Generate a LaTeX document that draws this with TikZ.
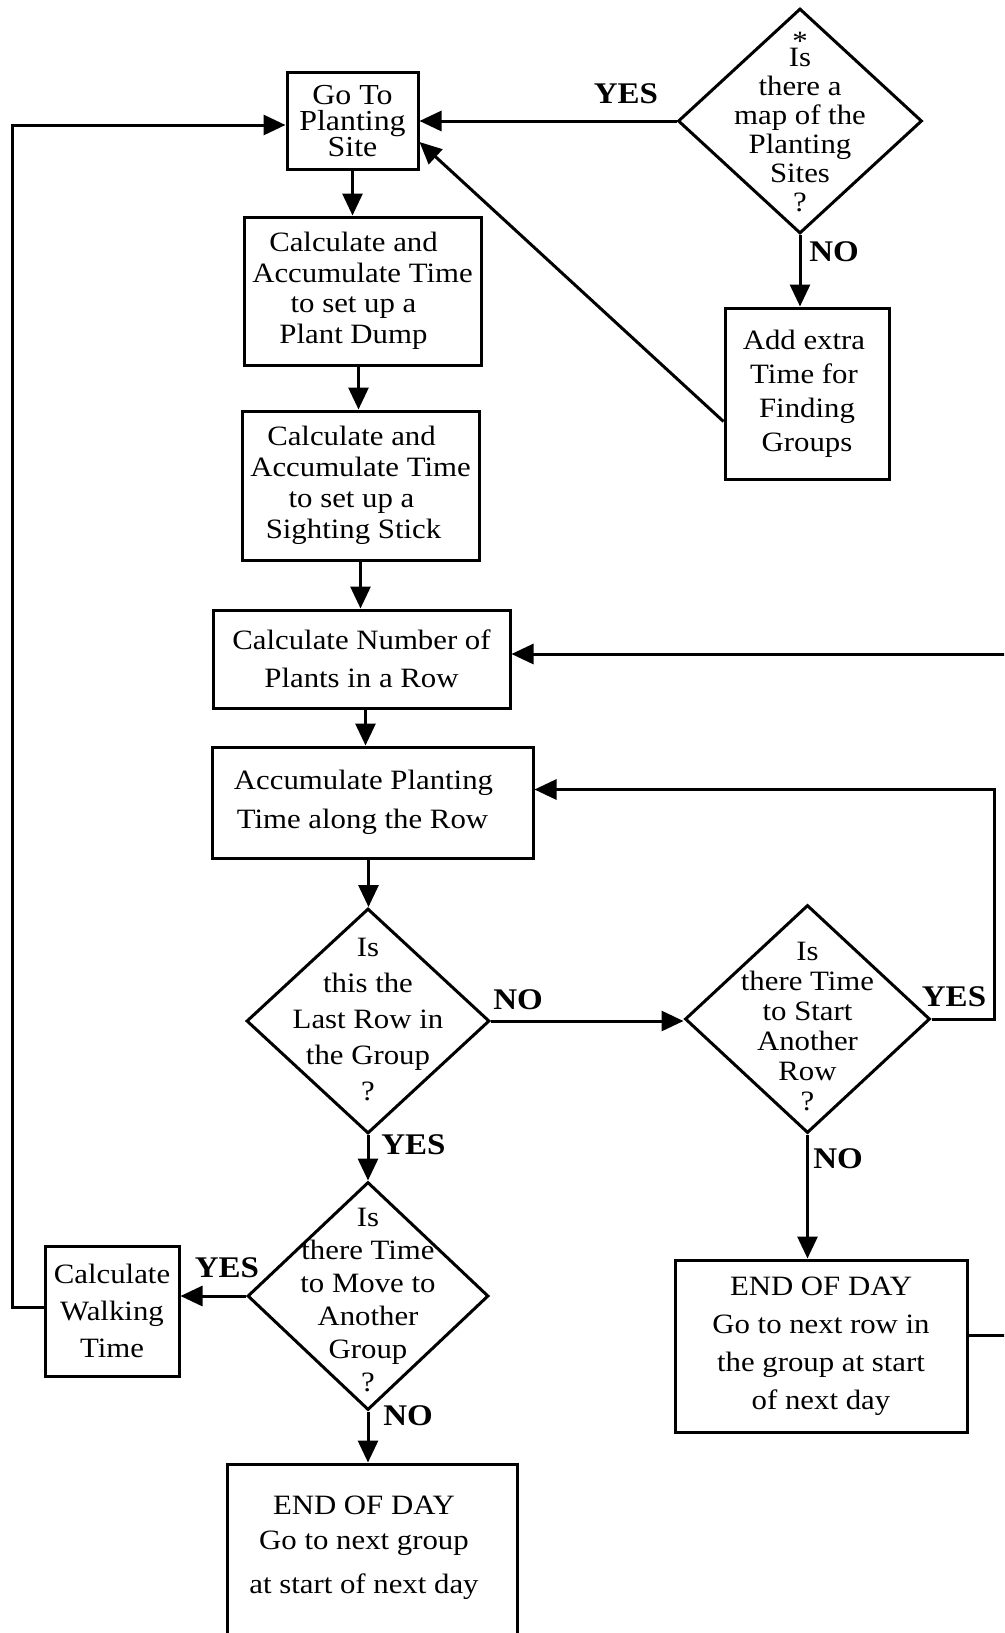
\documentclass[tikz,border=0pt]{standalone}
\usepackage{fontspec}
\setmainfont[FakeStretch=1.1]{Liberation Serif}
\usetikzlibrary{arrows.meta,shapes.geometric}
\begin{document}
\begin{tikzpicture}[x=1pt,y=-1pt,line width=3pt,
  box/.style={draw,rectangle,inner sep=0pt,align=center},
  dia/.style={draw,diamond,inner sep=0pt},
  txt/.style={align=center,inner sep=0pt},
  lab/.style={font=\fontsize{30}{30}\selectfont\bfseries,inner sep=0pt},
  arr/.style={-{Triangle[length=22pt,width=20pt]}}]
\useasboundingbox (0,0) rectangle (1004,1633);
\clip (0,0) rectangle (1004,1633);

% boxes
\node[box,minimum width=131pt,minimum height=97pt,font=\fontsize{29}{26}\selectfont] (b1) at (352.5,121) {Go To\\Planting\\Site};
\node[box,minimum width=237pt,minimum height=148pt,font=\fontsize{28}{30.5}\selectfont] (b2) at (362.5,291) {\hspace*{-18pt}Calculate and\\Accumulate Time\\\hspace*{-18pt}to set up a\\\hspace*{-18pt}Plant Dump};
\node[box,minimum width=237pt,minimum height=149pt,font=\fontsize{28}{31}\selectfont] (b3) at (360.5,485.5) {\hspace*{-18pt}Calculate and\\Accumulate Time\\\hspace*{-18pt}to set up a\\\hspace*{-14pt}Sighting Stick};
\node[box,minimum width=297pt,minimum height=98pt,font=\fontsize{28}{38}\selectfont] (b4) at (361.5,659) {Calculate Number of\\Plants in a Row};
\node[box,minimum width=321pt,minimum height=111pt,font=\fontsize{28}{39.5}\selectfont] (b5) at (372.5,802.5) {\hspace*{-18pt}Accumulate Planting\\\hspace*{-20pt}Time along the Row};
\node[box,minimum width=164pt,minimum height=171pt,font=\fontsize{28}{34}\selectfont] (add) at (807,393.5) {\hspace*{-6pt}Add extra\\\hspace*{-6pt}Time for\\Finding\\Groups};
\node[box,minimum width=134pt,minimum height=130pt,font=\fontsize{28}{37}\selectfont] (walk) at (112,1311) {Calculate\\Walking\\Time};
\node[box,minimum width=292pt,minimum height=172pt,font=\fontsize{28}{38}\selectfont] (endR) at (821,1346) {END OF DAY\\Go to next row in\\the group at start\\of next day};
\node[box,minimum width=290pt,minimum height=200pt] (endB) at (372,1564) {};
\node[txt,font=\fontsize{28}{35}\selectfont] (endBt) at (364,1548) {END OF DAY\\Go to next group\\[9pt]at start of next day};

% diamonds
\node[dia,minimum width=244pt,minimum height=225pt] (d0) at (800,121) {};
\node[txt,font=\fontsize{28}{29}\selectfont] (d0t) at (800,122) {\makebox[0pt]{*}\\[-13pt]Is\\there a\\map of the\\Planting\\Sites\\?};
\node[dia,minimum width=243pt,minimum height=225pt] (d1) at (368,1021) {};
\node[txt,font=\fontsize{28}{36}\selectfont] (d1t) at (368,1020) {Is\\this the\\Last Row in\\the Group\\?};
\node[dia,minimum width=245pt,minimum height=228pt] (d2) at (807.5,1019) {};
\node[txt,font=\fontsize{28}{30}\selectfont] (d2t) at (807.5,1027) {Is\\there Time\\to Start\\Another\\Row\\?};
\node[dia,minimum width=241pt,minimum height=228pt] (d3) at (368,1296) {};
\node[txt,font=\fontsize{28}{33}\selectfont] (d3t) at (368,1300) {Is\\there Time\\to Move to\\Another\\Group\\?};

% labels
\node[lab] (l1) at (626,94) {YES};
\node[lab] (l2) at (834,252) {NO};
\node[lab] (l3) at (518,1000) {NO};
\node[lab] (l4) at (954,997) {YES};
\node[lab] (l5) at (838,1159) {NO};
\node[lab] (l6) at (413.5,1145) {YES};
\node[lab] (l7) at (227,1267.5) {YES};
\node[lab] (l8) at (408,1416) {NO};

% free ends
\coordinate (r1) at (1010,654);
\coordinate (r2) at (994,789.5);
\coordinate (r3) at (1010,1335);
\coordinate (lft) at (12,1307);

% connectors
\draw[arr] (d0.west) -- (d0.west -| b1.east);
\draw[arr] (d0.south) -- (d0.south |- add.north);
\draw[arr] ([yshift=-28pt]add.west) -- ([yshift=-21pt]b1.east);
\draw[arr] (b1.south) -- (b1.south |- b2.north);
\draw[arr] ([xshift=-4pt]b2.south) -- ([xshift=-4pt]b2.south |- b3.north);
\draw[arr] (b3.south) -- (b3.south |- b4.north);
\draw[arr] ([xshift=4pt]b4.south) -- ([xshift=4pt]b4.south |- b5.north);
\draw[arr] (r1) -- (r1 -| b4.east);
\draw[arr] ([xshift=-4pt]b5.south) -- ([xshift=-4pt]b5.south |- d1.north);
\draw[arr] (d1.east) -- (d1.east -| d2.west);
\draw[arr] (d2.east) -| (r2) -- (r2 -| b5.east);
\draw[arr] (d2.south) -- (d2.south |- endR.north);
\draw (endR.east |- r3) -- (r3);
\draw[arr] (d1.south) -- (d3.north);
\draw[arr] (d3.west) -- (d3.west -| walk.east);
\draw[arr] (walk.west |- lft) -- (lft) |- ([yshift=-4pt]b1.west);
\draw[arr] (d3.south) -- (d3.south |- endB.north);
\end{tikzpicture}
\end{document}
